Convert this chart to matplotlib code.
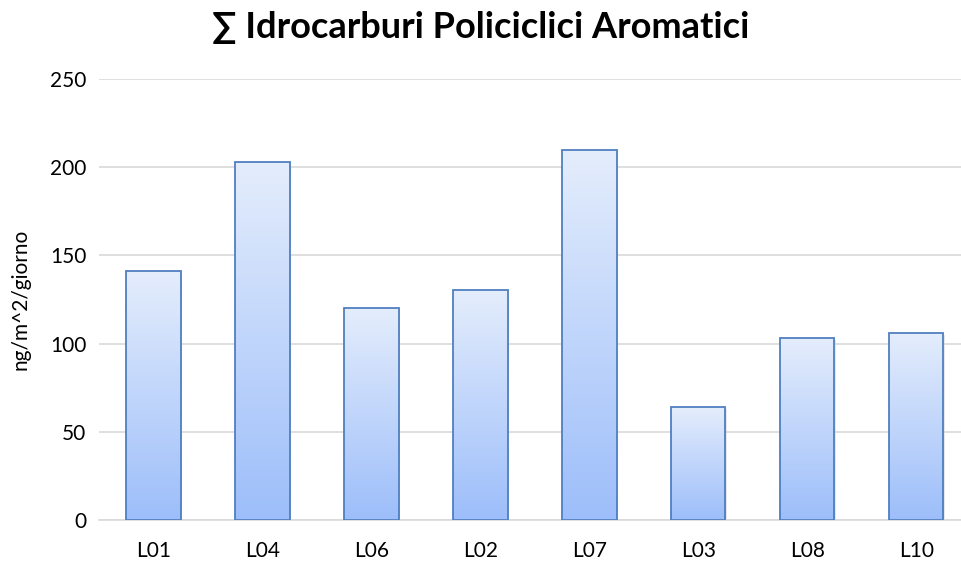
import numpy as np
import matplotlib
matplotlib.use('Agg')
import matplotlib.pyplot as plt
from matplotlib.colors import LinearSegmentedColormap

plt.rcParams['font.family'] = ['Lato', 'DejaVu Sans']

# data
stations = ['L01', 'L04', 'L06', 'L02', 'L07', 'L03', 'L08', 'L10']
ipa_values = [141, 203, 120, 130.5, 209.5, 64, 103, 106]
y_ticks = [0, 50, 100, 150, 200, 250]

fig = plt.figure(figsize=(9.61, 5.64), dpi=100)
ax = fig.add_axes([0.103, 0.078, 0.907, 0.782])

x = np.arange(len(stations))
bars = ax.bar(x, ipa_values, width=0.5, facecolor='none',
              edgecolor='#4f7fc0', linewidth=1.3, zorder=3)

# vertical gradient inside each bar
cmap = LinearSegmentedColormap.from_list('grad', ['#9dbefa', '#e4edfc'])
grad = np.linspace(0, 1, 256).reshape(-1, 1)
for b in bars:
    x0, y0 = b.get_x(), b.get_y()
    w, h = b.get_width(), b.get_height()
    # faint shadow
    ax.bar(x0 + w / 2 + 0.012, h, width=w, bottom=-1.2, color='#d0d0d0',
           alpha=0.5, zorder=2, linewidth=0)
    im = ax.imshow(grad, extent=[x0, x0 + w, y0, y0 + h], origin='lower',
                   aspect='auto', cmap=cmap, zorder=2.5)
    im.set_clip_path(b)

ax.set_xlim(-0.5, len(stations) - 0.5)
ax.set_ylim(0, 250)
ax.set_yticks(y_ticks)
ax.set_xticks(x)
ax.set_xticklabels(stations)
ax.tick_params(axis='both', length=0, labelsize=15, colors='black')
ax.tick_params(axis='x', pad=15)
ax.tick_params(axis='y', pad=9)

ax.grid(axis='y', color='#d9d9d9', linewidth=1.2, zorder=0)
ax.set_axisbelow(True)
for s in ['top', 'right', 'left']:
    ax.spines[s].set_visible(False)
ax.spines['bottom'].set_color('#d9d9d9')
ax.spines['bottom'].set_linewidth(1.2)

ax.set_ylabel('ng/m^2/giorno', fontsize=15, labelpad=14)
fig.text(0.5, 0.952, '\u2211 Idrocarburi Policiclici Aromatici', ha='center', va='center',
         fontsize=26, fontweight='bold')

fig.savefig('out.png', dpi=100)
